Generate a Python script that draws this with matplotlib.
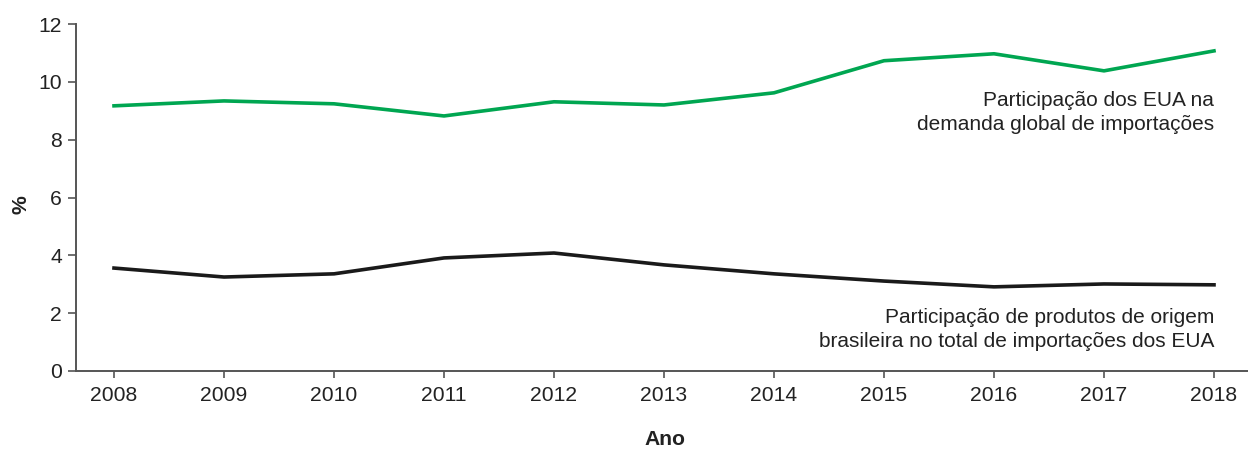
import matplotlib
matplotlib.use("Agg")
import matplotlib.pyplot as plt

years = [2008, 2009, 2010, 2011, 2012, 2013, 2014, 2015, 2016, 2017, 2018]
eua_share = [9.17, 9.34, 9.24, 8.82, 9.31, 9.20, 9.62, 10.73, 10.97, 10.38, 11.07]
brasil_share = [3.56, 3.25, 3.36, 3.91, 4.08, 3.67, 3.36, 3.11, 2.91, 3.01, 2.98]
yticks = [0, 2, 4, 6, 8, 10, 12]
label_eua = ["Participação dos EUA na", "demanda global de importações"]
label_br = ["Participação de produtos de origem", "brasileira no total de importações dos EUA"]

plt.rcParams['font.family'] = ['Liberation Sans', 'DejaVu Sans']

W, H = 1248, 450
fig = plt.figure(figsize=(W/100, H/100), dpi=100)
ax = fig.add_axes([76/W, 1 - 371/H, (1248-76)/W, (371-24)/H])

ax.plot(years, eua_share, color='#00a651', lw=2.6)
ax.plot(years, brasil_share, color='#1a1a1a', lw=2.6)

ax.set_xlim(2008 - 38/110, 2018 + 34/110)
ax.set_ylim(0, 12)
ax.set_xticks(years)
ax.set_yticks(yticks)
ax.tick_params(labelsize=15.2, color='#555555', width=1.2, length=5, labelcolor='#222222')
ax.tick_params(axis='y', length=6, pad=4)
ax.tick_params(axis='x', pad=6)

for s in ['top', 'right']:
    ax.spines[s].set_visible(False)
for s in ['left', 'bottom']:
    ax.spines[s].set_color('#555555')
    ax.spines[s].set_linewidth(1.4)

ax.set_ylabel('%', fontsize=15.2, fontweight='bold', color='#222222', va='center')
ax.yaxis.set_label_coords((21 - 76) / 1172, (371 - 205) / 347)
ax.set_xlabel('Ano', fontsize=15.2, fontweight='bold', color='#222222', va='baseline')
ax.xaxis.set_label_coords((665 - 76) / 1172, -(445 - 371) / 347)

px = 347 / 12.0
def yval(py):
    return (371 - py) / px

for line, py in zip(label_eua, [106, 130]):
    ax.text(2018, yval(py), line, ha='right', va='baseline', fontsize=15, color='#222222')
for line, py in zip(label_br, [323, 347]):
    ax.text(2018, yval(py), line, ha='right', va='baseline', fontsize=15, color='#222222')

fig.savefig('out.png', dpi=100)
